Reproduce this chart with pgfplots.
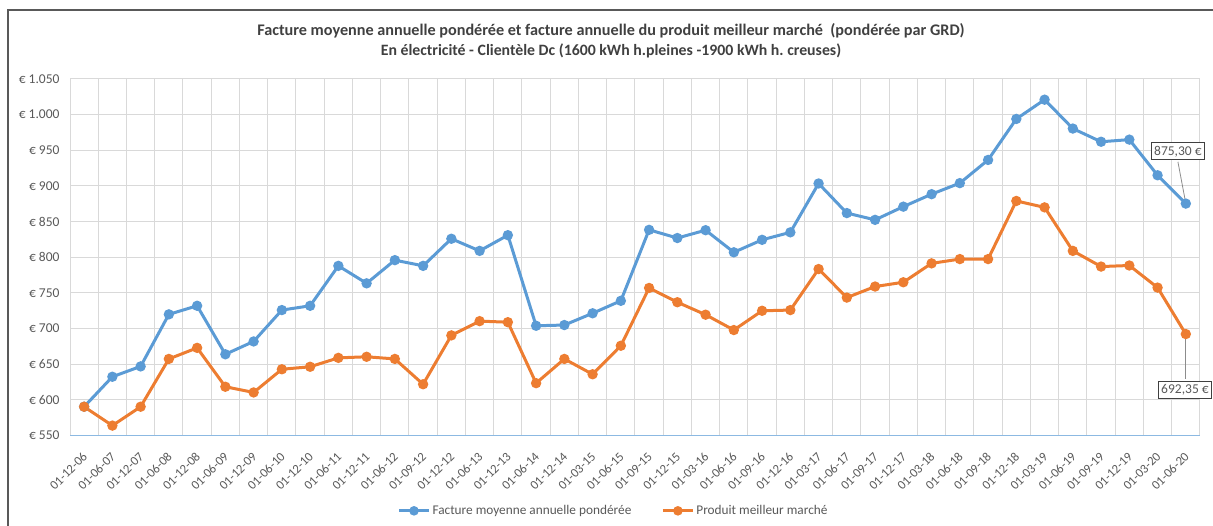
\documentclass[border=0pt]{standalone}
\usepackage{pgfplots}
\pgfplotsset{compat=1.18}
\usepackage{fontspec}
\setmainfont{Carlito}
\definecolor{cblue}{HTML}{5B9BD5}
\definecolor{corange}{HTML}{ED7D31}
\definecolor{gridc}{HTML}{D9D9D9}
\definecolor{txt}{HTML}{595959}
\definecolor{ttl}{HTML}{404040}
\frenchspacing
\begin{document}
\begin{tikzpicture}[x=1pt,y=1pt]
\path[use as bounding box] (0,0) rectangle (1213,526);
\draw[line width=1.5pt, color=black!65] (8,0) -- (8,516) -- (1213,516);
\node[font=\bfseries\fontsize{16.2}{20}\selectfont, text=ttl, anchor=base] at (611,490)
  {Facture moyenne annuelle pondérée et facture annuelle du produit meilleur marché \ (pondérée par GRD)};
\node[font=\bfseries\fontsize{15.8}{20}\selectfont, text=ttl, anchor=base] at (611,470)
  {En électricité - Clientèle Dc (1600 kWh h.pleines -1900 kWh h. creuses)};
\begin{axis}[
  at={(70pt,90.4pt)}, anchor=south west,
  scale only axis, width=1130pt, height=356.6pt,
  xmin=-0.5, xmax=39.5, ymin=550, ymax=1050,
  clip=false,
  axis x line*=bottom, axis y line*=left,
  x axis line style={color=cblue!70, line width=1pt, -},
  y axis line style={draw=none},
  major tick length=0pt, minor tick length=0pt,
  ytick={550,600,...,1050},
  yticklabels={€ 550,€ 600,€ 650,€ 700,€ 750,€ 800,€ 850,€ 900,€ 950,€ 1.000,€ 1.050},
  yticklabel style={font=\fontsize{13.5}{15}\selectfont, text=txt, xshift=-7pt},
  xtick={0,...,39},
  xticklabels={01-12-06,01-06-07,01-12-07,01-06-08,01-12-08,01-06-09,01-12-09,01-06-10,01-12-10,01-06-11,01-12-11,01-06-12,01-09-12,01-12-12,01-06-13,01-12-13,01-06-14,01-12-14,01-03-15,01-06-15,01-09-15,01-12-15,01-03-16,01-06-16,01-09-16,01-12-16,01-03-17,01-06-17,01-09-17,01-12-17,01-03-18,01-06-18,01-09-18,01-12-18,01-03-19,01-06-19,01-09-19,01-12-19,01-03-20,01-06-20},
  xticklabel style={font=\fontsize{12.8}{14}\selectfont, text=txt, inner sep=0pt, yshift=-19pt, xshift=1pt, rotate=45, anchor=east},
  minor xtick={-0.5,0.5,...,39.5},
  xminorgrids, ymajorgrids,
  grid style={gridc, line width=1pt},
  minor grid style={gridc, line width=1pt},
  legend columns=2,
  legend style={draw=none, at={(0.481,-0.211)}, anchor=center, font=\fontsize{13.3}{15}\selectfont, text=txt,
    /tikz/every even column/.append style={column sep=28pt}},
  legend image code/.code={\draw[#1, mark=none] (0pt,0pt) -- (30pt,0pt); \fill[#1] (15pt,0pt) circle (3.2pt);},
]
\addplot[cblue, line width=3pt, mark=*, mark size=3.6pt] coordinates {
(0,590.5) (1,632.5) (2,647) (3,720) (4,732) (5,664) (6,682) (7,726) (8,732) (9,788)
(10,763.5) (11,796) (12,788) (13,826) (14,809) (15,831) (16,704) (17,705) (18,721.5) (19,739)
(20,838.5) (21,827) (22,838) (23,807) (24,824.5) (25,835) (26,903.5) (27,862) (28,852.5) (29,871)
(30,888.5) (31,904) (32,936.5) (33,994) (34,1021) (35,980.5) (36,962) (37,965) (38,915) (39,875.3)};
\addlegendentry{Facture moyenne annuelle pondérée}
\addplot[corange, line width=3pt, mark=*, mark size=3.6pt] coordinates {
(0,590.5) (1,564) (2,590.5) (3,657.5) (4,673) (5,618.5) (6,610.5) (7,643) (8,646.5) (9,659)
(10,660.5) (11,657.5) (12,622) (13,690.5) (14,710.5) (15,709) (16,623.5) (17,657.5) (18,636) (19,676)
(20,757) (21,737) (22,719.5) (23,698) (24,725) (25,726) (26,783.5) (27,743.5) (28,759) (29,765)
(30,791.5) (31,797.5) (32,797.5) (33,879) (34,870) (35,809) (36,787) (37,788.5) (38,757.5) (39,692.35)};
\addlegendentry{Produit meilleur marché}
\draw[black!45, line width=0.8pt] (axis cs:38.72,933.9) -- (axis cs:39,875.3);
\draw[black!45, line width=0.8pt] (axis cs:39,692.35) -- (axis cs:39,629.4);
\node[draw=black!75, line width=1pt, fill=white, font=\fontsize{13.5}{15}\selectfont, text=txt, inner sep=3pt] at (axis cs:38.72,948.6) {875,30 €};
\node[draw=black!75, line width=1pt, fill=white, font=\fontsize{13.5}{15}\selectfont, text=txt, inner sep=3pt] at (axis cs:38.97,614) {692,35 €};
\end{axis}
\end{tikzpicture}
\end{document}
